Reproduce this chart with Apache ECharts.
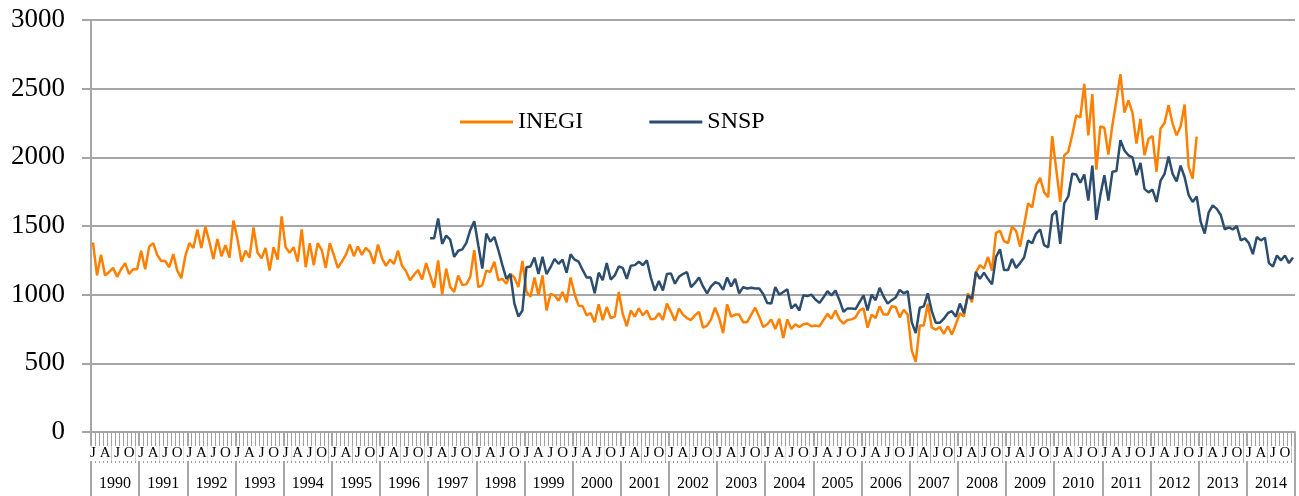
<!DOCTYPE html>
<html>
<head>
<meta charset="utf-8">
<script src="https://cdn.jsdelivr.net/npm/echarts@6/dist/echarts.min.js"></script>
<style>
  html, body { margin: 0; padding: 0; background: #fff; }
  #chart { width: 1299px; height: 496px; }
</style>
</head>
<body>
<div id="chart"></div>
<script>
// years on the lower axis row, quarter letters on the upper row
const years = ["1990", "1991", "1992", "1993", "1994", "1995", "1996", "1997", "1998", "1999",
  "2000", "2001", "2002", "2003", "2004", "2005", "2006", "2007", "2008", "2009",
  "2010", "2011", "2012", "2013", "2014"];
const monthLetters = ["J", "", "", "A", "", "", "J", "", "", "O", "", ""];

// INEGI, monthly, Jan 1990 - Dec 2012
const inegi = [
  1380, 1140, 1290, 1140, 1165, 1195, 1130, 1185, 1230, 1150, 1185, 1185,
  1320, 1185, 1350, 1375, 1290, 1245, 1245, 1200, 1295, 1175, 1120, 1280,
  1375, 1340, 1475, 1340, 1495, 1385, 1260, 1405, 1280, 1360, 1270, 1540,
  1405, 1240, 1320, 1270, 1490, 1305, 1265, 1340, 1175, 1345, 1255, 1570,
  1345, 1305, 1345, 1240, 1475, 1200, 1375, 1215, 1375, 1325, 1195, 1375,
  1290, 1195, 1240, 1290, 1365, 1280, 1350, 1290, 1340, 1310, 1225, 1365,
  1265, 1210, 1255, 1225, 1320, 1210, 1170, 1105, 1145, 1180, 1110, 1230,
  1140, 1050, 1250, 1000, 1190, 1055, 1020, 1140, 1070, 1075, 1130, 1325,
  1055, 1070, 1175, 1165, 1240, 1105, 1115, 1080, 1150, 1125, 1055, 1245,
  1020, 985, 1125, 995, 1140, 885, 1005, 995, 955, 1020, 945, 1125,
  1005, 920, 915, 850, 865, 800, 930, 815, 910, 830, 840, 1020,
  860, 770, 885, 840, 900, 850, 885, 820, 825, 865, 815, 935,
  875, 810, 900, 855, 830, 815, 850, 875, 760, 775, 820, 905,
  830, 720, 930, 840, 855, 855, 800, 800, 855, 905, 840, 765,
  785, 820, 750, 825, 685, 820, 750, 785, 765, 785, 790, 770,
  775, 770, 815, 860, 825, 885, 820, 790, 815, 820, 835, 885,
  900, 760, 855, 830, 915, 855, 855, 915, 910, 835, 890, 855,
  595, 510, 775, 775, 935, 760, 745, 765, 715, 770, 710, 785,
  865, 840, 1010, 945, 1165, 1215, 1190, 1275, 1175, 1450, 1465, 1390,
  1375, 1495, 1465, 1350, 1505, 1665, 1635, 1795, 1850, 1745, 1710, 2155,
  1915, 1675, 2015, 2040, 2165, 2305, 2290, 2535, 2160, 2460, 1910, 2225,
  2215, 2020, 2235, 2415, 2605, 2325, 2415, 2325, 2100, 2280, 2015, 2135,
  2155, 1895, 2210, 2250, 2380, 2245, 2160, 2225, 2385, 1930, 1845, 2150
];

// SNSP, monthly, Jan 1997 - Dec 2014
const snspStart = "1997";
const snsp = [
  1410, 1410, 1555, 1370, 1430, 1400, 1275, 1320, 1330, 1375, 1470, 1535,
  1360, 1190, 1445, 1385, 1420, 1325, 1215, 1115, 1150, 935, 840, 885,
  1200, 1205, 1270, 1150, 1275, 1150, 1200, 1260, 1225, 1255, 1160, 1295,
  1255, 1240, 1180, 1125, 1125, 1010, 1160, 1105, 1230, 1110, 1140, 1205,
  1195, 1115, 1210, 1215, 1240, 1215, 1250, 1125, 1030, 1100, 1030, 1150,
  1155, 1080, 1130, 1150, 1165, 1055, 1085, 1125, 1060, 1010, 1060, 1090,
  1080, 1035, 1125, 1060, 1115, 1010, 1055, 1045, 1050, 1045, 1045, 1005,
  940, 935, 1055, 1000, 1020, 1040, 900, 930, 885, 995, 990, 1000,
  965, 940, 980, 1025, 995, 1030, 960, 875, 900, 900, 895, 945,
  995, 885, 1000, 960, 1050, 985, 935, 960, 980, 1035, 1010, 1025,
  800, 720, 905, 915, 1010, 880, 795, 795, 825, 865, 880, 840,
  935, 865, 995, 970, 1165, 1115, 1160, 1115, 1075, 1275, 1330, 1180,
  1180, 1260, 1195, 1230, 1270, 1395, 1375, 1445, 1475, 1360, 1345, 1580,
  1610, 1370, 1665, 1715, 1880, 1875, 1815, 1875, 1685, 1940, 1545, 1725,
  1870, 1685, 1895, 1900, 2125, 2050, 2015, 2000, 1870, 1960, 1770, 1745,
  1765, 1675, 1830, 1880, 2005, 1880, 1825, 1940, 1855, 1725, 1675, 1715,
  1530, 1445, 1600, 1650, 1625, 1580, 1475, 1490, 1475, 1500, 1395, 1410,
  1375, 1295, 1420, 1395, 1415, 1230, 1205, 1285, 1250, 1285, 1230, 1270
];

const yTicks = [0, 500, 1000, 1500, 2000, 2500, 3000];

// one category per month
const months = [];
years.forEach(y => {
  monthLetters.forEach((l, i) => months.push(y + "-" + (i + 1)));
});
const snspFull = new Array(years.indexOf(snspStart) * 12).fill(null).concat(snsp);

const font = "Liberation Serif";
const gray = "#a6a6a6";

const chart = echarts.init(document.getElementById("chart"));
chart.setOption({
  animation: false,
  backgroundColor: "#fff",
  textStyle: { fontFamily: font },
  grid: { left: 91, right: 4, top: 20, bottom: 64, containLabel: false },
  legend: {
    left: 455,
    top: 105,
    itemGap: 66,
    itemWidth: 53,
    itemHeight: 3,
    icon: "rect",
    textStyle: { fontFamily: font, fontSize: 24, color: "#000" },
    data: ["INEGI", "SNSP"]
  },
  xAxis: [
    {
      type: "category",
      data: months,
      boundaryGap: true,
      axisLine: { show: true, lineStyle: { color: gray, width: 2 } },
      axisTick: { show: true, interval: 0, length: 31, lineStyle: { color: "#a0a0a0", width: 1 } },
      axisLabel: {
        interval: 0,
        margin: 14,
        fontFamily: font,
        fontSize: 15,
        color: "#000",
        backgroundColor: "#fff",
        padding: [0, 1],
        formatter: (v, i) => monthLetters[i % 12]
      },
      splitLine: { show: false }
    },
    {
      type: "category",
      data: years,
      position: "bottom",
      boundaryGap: true,
      axisLine: { show: false },
      axisTick: { show: true, interval: 0, length: 64, lineStyle: { color: gray, width: 2 } },
      axisLabel: { interval: 0, margin: 44, fontFamily: font, fontSize: 16, color: "#000" },
      splitLine: { show: false }
    }
  ],
  yAxis: {
    type: "value",
    min: yTicks[0],
    max: yTicks[yTicks.length - 1],
    interval: 500,
    axisLine: { show: true, lineStyle: { color: gray, width: 2 } },
    axisTick: { show: true, length: 9, lineStyle: { color: gray, width: 2 } },
    axisLabel: { margin: 26, fontFamily: font, fontSize: 27, color: "#000", formatter: v => String(v) },
    splitLine: { show: true, lineStyle: { color: gray, width: 2 } }
  },
  series: [
    {
      name: "INEGI",
      type: "line",
      data: inegi,
      symbol: "none",
      itemStyle: { color: "#ff8000" },
      lineStyle: { color: "#ff8000", width: 2.5 }
    },
    {
      name: "SNSP",
      type: "line",
      data: snspFull,
      symbol: "none",
      itemStyle: { color: "#2c4d6e" },
      lineStyle: { color: "#2c4d6e", width: 2.5 }
    }
  ]
});
</script>
</body>
</html>
